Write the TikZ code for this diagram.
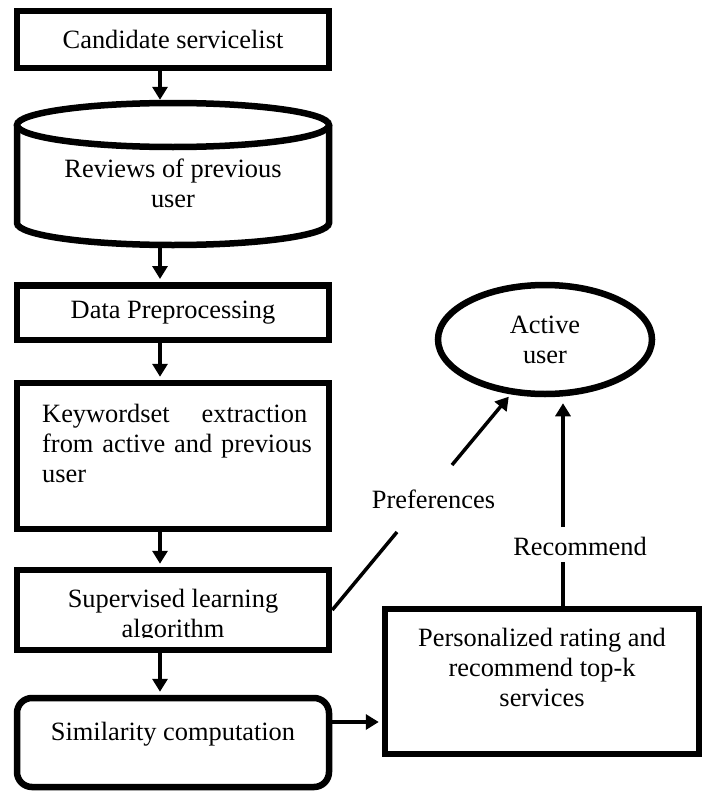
\documentclass[tikz,border=0pt]{standalone}
\usepackage{fontspec}
\setmainfont{Liberation Serif}
\usetikzlibrary{arrows.meta,shapes.geometric}
\begin{document}
\begin{tikzpicture}[x=1pt,y=-1pt,
	txt/.style={font=\fontsize{26.4pt}{30pt}\selectfont,align=center,inner sep=0pt},
	box/.style={draw,line width=6.5pt,minimum width=312pt,inner sep=0pt},
	flow/.style={-{Triangle[length=13pt,width=15pt]},line width=3.5pt,shorten >=3pt},
	link/.style={line width=3.5pt}]
	\useasboundingbox (0,0) rectangle (705,792);
	\coordinate (col) at (160,0);
	\coordinate (row) at (0,722);
	% left column
	\node[box,txt,minimum height=57pt] (cand) at (173,39.5) {Candidate servicelist};
	\node[minimum width=312pt,minimum height=142pt,inner sep=0pt] (rev) at (173,174) {};
	\draw[line width=6.5pt] (17,125) -- (17,223) arc[start angle=180,end angle=360,x radius=156pt,y radius=22pt] -- (329,125);
	\draw[line width=6.5pt] (173,125) ellipse[x radius=156pt,y radius=22pt];
	\node[txt] (revtext) at (173,183) {Reviews of previous\\user};
	\node[box,txt,minimum height=54.5pt] (data) at (173,312.5) {Data Preprocessing};
	\node[box,minimum height=146pt] (key) at (173,456) {};
	\node[txt,align=left,text width=265pt,anchor=north west] (keytext) at (42,404) {Keywordset\hfill extraction\\\mbox{from active and previous}\\user};
	\node[box,minimum height=80pt] (sup) at (173,610) {};
	\begin{scope}
		\clip (17,570) rectangle (329,637);
		\node[txt] (suptext) at (173,616) {Supervised learning\\algorithm};
	\end{scope}
	\node[box,rounded corners=15pt,minimum height=89pt] (sim) at (173,742.5) {};
	\node[txt] (simtext) at (173,734) {Similarity computation};
	\foreach \a/\b in {cand/rev,rev/data,data/key,key/sup,sup/sim}
		\draw[flow] (\a.south -| col) -- (\b.north -| col);
	% right side
	\node[draw,ellipse,line width=6.5pt,minimum width=214pt,minimum height=109pt,txt] (act) at (545,339.5) {Active\\user};
	\node[box,minimum width=314pt,minimum height=145pt] (per) at (542,681.5) {};
	\node[txt] (pertext) at (542,667) {Personalized rating and\\recommend top-k\\services};
	\draw[flow] (sim.east |- row) -- (per.west |- row);
	\node[txt] (pref) at (433.5,499) {Preferences};
	\coordinate (p1) at (397,532);
	\coordinate (p2) at (452,465);
	\draw[link] (sup.east) -- (p1);
	\draw[flow] (p2) -- (act.238);
	\node[txt] (rec) at (580,546) {Recommend};
	\coordinate (r1) at (563,562);
	\coordinate (r2) at (563,527);
	\draw[link] ([xshift=21pt]per.north) -- (r1);
	\draw[flow,shorten >=6pt] (r2) -- (r2 |- act.south);
\end{tikzpicture}
\end{document}
